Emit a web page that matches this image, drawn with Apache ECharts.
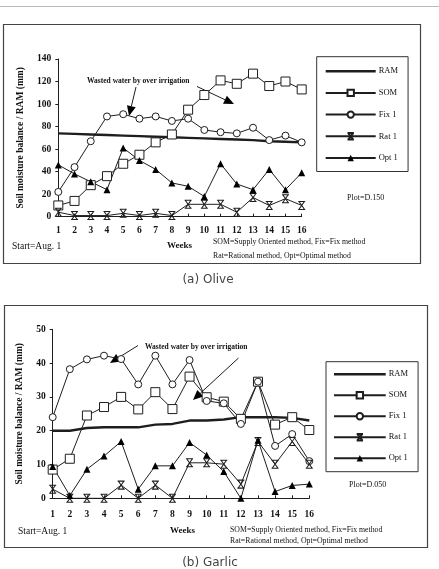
<!DOCTYPE html>
<html>
<head>
<meta charset="utf-8">
<script src="https://cdn.jsdelivr.net/npm/echarts@6/dist/echarts.min.js"></script>
<style>
html,body{margin:0;padding:0;background:#fff}
#main{width:439px;height:569px}
</style>
</head>
<body>
<div id="main"></div>
<script>
var weeks = ['1','2','3','4','5','6','7','8','9','10','11','12','13','14','15','16'];

// (a) Olive
var oliveRAM = [74, 73.5, 73, 72.5, 72, 71.5, 71, 70.5, 70, 69.5, 69, 68.5, 68, 67, 66.5, 66];
var oliveSOM = [10, 14, 28, 36, 47, 55, 66, 73, 95, 108, 121, 118, 127, 116, 120, 113];
var oliveFix = [22, 44, 67, 89, 91, 87, 89, 85, 87, 77, 75, 74, 79, 68, 72, 66];
var oliveRat = [4, 1, 1, 1, 3, 1, 3, 1, 11, 11, 11, 4, 17, 10, 16, 10];
var oliveOpt = [46, 38, 31, 24, 61, 50, 42, 30, 27, 18, 47, 29, 24, 42, 24, 39];

// (b) Garlic
var garlicRAM = [20, 20, 20.8, 21, 21, 21, 21.8, 22, 23, 23, 23.3, 24, 24, 24, 23.8, 23];
var garlicSOM = [8.5, 11.7, 24.5, 27, 30, 26.3, 31.4, 26.4, 36, 29.9, 28.6, 23.5, 34.5, 21.8, 24, 20.2];
var garlicFix = [24, 38.2, 41.1, 42.2, 41.2, 33.7, 42.2, 33.7, 40.9, 28.8, 28.1, 22, 34.5, 15.5, 19, 11];
var garlicRat = [2.7, 0, 0, 0, 3.9, 0, 3.9, 0, 10.5, 10.5, 10.1, 4.2, 16.8, 10.1, 16.8, 10.1];
var garlicOpt = [9.4, 0.8, 8.6, 12.5, 16.8, 2.7, 9.6, 9.6, 16.5, 12.8, 7.9, 0, 17.2, 2, 3.8, 4.2];

var names = ['RAM', 'SOM', 'Fix 1', 'Rat 1', 'Opt 1'];
var ink = '#1e1e1e';
var serif = '"Liberation Serif", "DejaVu Serif", serif';
var xMark = 'path://M0,0L10,0M0,12L10,12M1,0L9,12M9,0L1,12';

function seriesFor(idx, ram, som, fix, rat, opt) {
    var base = { type: 'line', xAxisIndex: idx, yAxisIndex: idx, animation: false,
                 lineStyle: { color: ink, width: 1 } };
    return [
        Object.assign({}, base, { name: 'RAM', data: ram, symbol: 'none', lineStyle: { color: ink, width: 2.4 }, itemStyle: { color: ink } }),
        Object.assign({}, base, { name: 'SOM', data: som, symbol: 'rect', symbolSize: 9,
            itemStyle: { color: '#fff', borderColor: ink, borderWidth: 1 } }),
        Object.assign({}, base, { name: 'Fix 1', data: fix, symbol: 'circle', symbolSize: 7,
            itemStyle: { color: '#fff', borderColor: ink, borderWidth: 1 } }),
        Object.assign({}, base, { name: 'Rat 1', data: rat, symbol: xMark, symbolSize: [7, 8],
            itemStyle: { color: ink, borderColor: ink, borderWidth: 1 } }),
        Object.assign({}, base, { name: 'Opt 1', data: opt, symbol: 'triangle', symbolSize: 7,
            itemStyle: { color: '#000', borderWidth: 0 } })
    ];
}

function xAxisFor(idx, margin) {
    return {
        type: 'category', gridIndex: idx, data: weeks, boundaryGap: false,
        axisLine: { lineStyle: { color: ink, width: 1 } },
        axisTick: { inside: true, length: 3, lineStyle: { color: ink } },
        axisLabel: { margin: margin, fontFamily: serif, fontWeight: 'bold', fontSize: 9.5, color: '#111' },
        splitLine: { show: false }
    };
}

function yAxisFor(idx, max, step, gap) {
    return {
        type: 'value', gridIndex: idx, min: 0, max: max, interval: step,
        name: 'Soil moisture balance / RAM (mm)', nameLocation: 'middle', nameGap: gap,
        nameTextStyle: { fontFamily: serif, fontWeight: 'bold', fontSize: 9.5, color: '#111' },
        axisLine: { show: true, lineStyle: { color: ink, width: 1 } },
        axisTick: { show: true, length: 3, lineStyle: { color: ink } },
        axisLabel: { margin: 7, fontFamily: serif, fontWeight: 'bold', fontSize: 9.5, color: '#111' },
        splitLine: { show: false }
    };
}

function legendFor(left, top, w, gap, pad) {
    var items = names.map(function (n) {
        return n === 'RAM' ? { name: n, icon: 'path://M0,0H50V2.4H0Z' } : { name: n };
    });
    return {
        orient: 'vertical', left: left, top: top, data: items,
        itemWidth: w, itemHeight: 8, itemGap: gap, padding: pad,
        borderColor: '#333', borderWidth: 1, selectedMode: false,
        textStyle: { fontFamily: serif, fontSize: 8.5, color: '#111', padding: [0, 0, 0, -2] }
    };
}

function arrow(x1, y1, x2, y2) {
    var dx = x2 - x1, dy = y2 - y1, len = Math.sqrt(dx * dx + dy * dy);
    var ux = dx / len, uy = dy / len, L = 10, W = 4.5;
    var bx = x2 - ux * L, by = y2 - uy * L;
    return [
        { type: 'line', shape: { x1: x1, y1: y1, x2: bx, y2: by }, style: { stroke: ink, lineWidth: 1 } },
        { type: 'polygon', shape: { points: [[x2, y2], [bx - uy * W, by + ux * W], [bx + uy * W, by - ux * W]] },
          style: { fill: '#000' } }
    ];
}

function txt(x, y, s, size, bold) {
    return { type: 'text', x: x, y: y,
        style: { text: s, fontFamily: serif, fontSize: size, fontWeight: bold ? 'bold' : 'normal',
                 fill: '#111', verticalAlign: 'middle' } };
}

var graphics = [
    { type: 'line', shape: { x1: 0, y1: 6.5, x2: 439, y2: 6.5 }, style: { stroke: '#bbb', lineWidth: 1 } },
    { type: 'rect', shape: { x: 3.5, y: 24.5, width: 417, height: 239 }, style: { fill: 'none', stroke: '#444', lineWidth: 1.2 } },
    { type: 'rect', shape: { x: 4.5, y: 305.5, width: 423, height: 242 }, style: { fill: 'none', stroke: '#444', lineWidth: 1.2 } },
    txt(87, 81.5, 'Wasted water by over irrigation', 7.5, true),
    txt(12, 246, 'Start=Aug. 1', 9.5),
    txt(167, 246, 'Weeks', 9, true),
    txt(213, 242, 'SOM=Supply Oriented method, Fix=Fix method', 7.8),
    txt(213, 256, 'Rat=Rational method, Opt=Optimal method', 7.8),
    txt(347, 198, 'Plot=D.150', 8),
    { type: 'text', x: 208, y: 279.5, style: { text: '(a) Olive', fontFamily: '"DejaVu Sans", sans-serif', fontSize: 12, fill: '#444', align: 'center', verticalAlign: 'middle' } },
    txt(145, 347, 'Wasted water by over irrigation', 7.5, true),
    txt(18, 531.5, 'Start=Aug. 1', 9.5),
    txt(170, 531, 'Weeks', 9, true),
    txt(230, 529.5, 'SOM=Supply Oriented method, Fix=Fix method', 7.8),
    txt(230, 541, 'Rat=Rational method, Opt=Optimal method', 7.8),
    txt(349, 485, 'Plot=D.050', 8),
    { type: 'text', x: 210, y: 562.5, style: { text: '(b) Garlic', fontFamily: '"DejaVu Sans", sans-serif', fontSize: 12, fill: '#444', align: 'center', verticalAlign: 'middle' } }
];
graphics = graphics
    .concat(arrow(136, 87, 129, 116))
    .concat(arrow(197, 86.5, 234, 104))
    .concat(arrow(138, 345.5, 110, 363))
    .concat(arrow(238.5, 358, 193, 400));

var myChart = echarts.init(document.getElementById('main'), null, { renderer: 'canvas' });
var option = {
    backgroundColor: '#fff',
    animation: false,
    grid: [
        { left: 58.3, right: 137.3, top: 59, bottom: 352.3, outerBoundsMode: 'none' },
        { left: 52.7, right: 129.7, top: 329.3, bottom: 70.7, outerBoundsMode: 'none' }
    ],
    xAxis: [xAxisFor(0, 9), xAxisFor(1, 11)],
    yAxis: [yAxisFor(0, 140, 20, 33), yAxisFor(1, 50, 10, 28)],
    legend: [
        legendFor(316.7, 56.7, 50, 12.7, [10, 10, 9, 8]),
        legendFor(326, 361.7, 51.7, 12, [8, 10, 9, 7])
    ],
    series: seriesFor(0, oliveRAM, oliveSOM, oliveFix, oliveRat, oliveOpt)
        .concat(seriesFor(1, garlicRAM, garlicSOM, garlicFix, garlicRat, garlicOpt)),
    graphic: graphics
};
myChart.setOption(option);
</script>
</body>
</html>
